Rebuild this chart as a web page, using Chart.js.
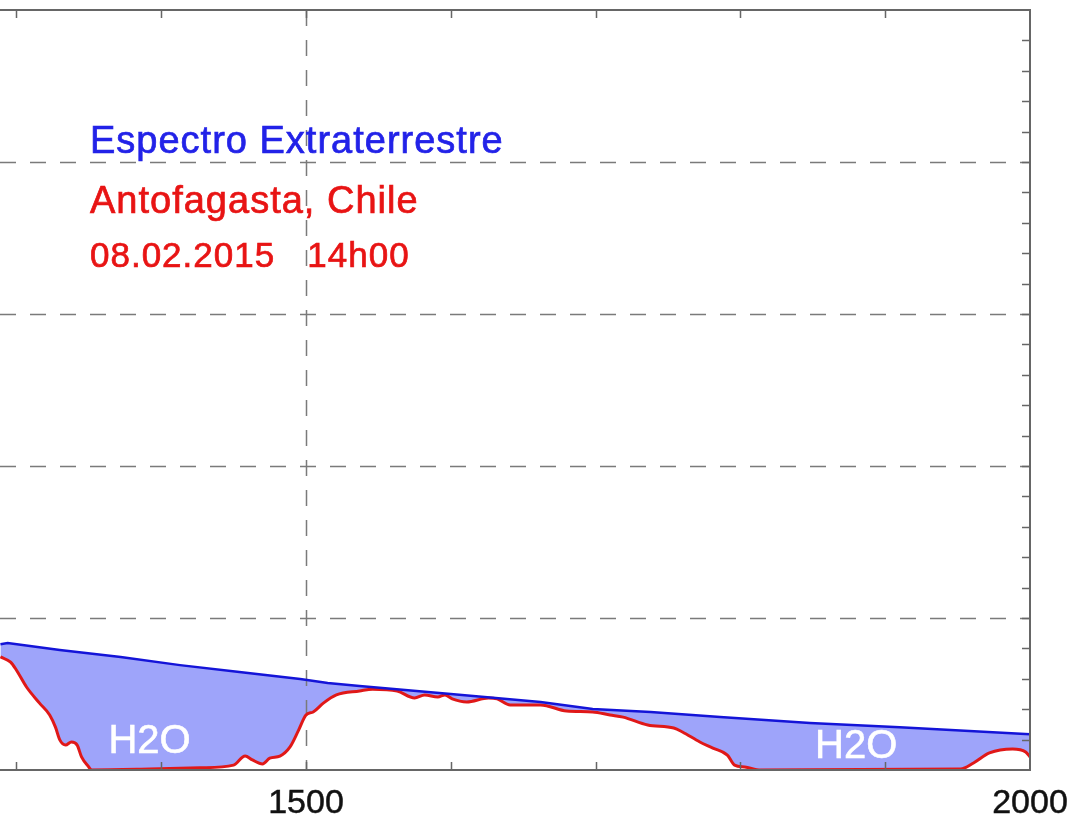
<!DOCTYPE html>
<html>
<head>
<meta charset="utf-8">
<script src="https://cdn.jsdelivr.net/npm/chart.js@4.4.1/dist/chart.umd.min.js"></script>
<style>
    html, body { margin: 0; padding: 0; background: #fff; }
    #wrap { width: 1075px; height: 822px; }
</style>
</head>
<body>
<div id="wrap"><canvas id="spectrumChart"></canvas></div>
<script>
// extraterrestrial spectrum (nm, W/m2/nm)
const etrWave = [1289, 1294, 1330, 1372, 1413, 1454, 1496, 1515, 1537, 1600, 1662, 1698, 1738, 1786, 1848, 1910, 2000];
const etrValue = [0.414, 0.418, 0.395, 0.372, 0.345, 0.322, 0.299, 0.286, 0.276, 0.250, 0.224, 0.201, 0.191, 0.174, 0.155, 0.141, 0.118];

// Antofagasta measurement
const siteWave = [1289, 1296, 1300, 1307, 1316, 1323, 1327, 1330, 1334, 1338, 1342, 1345, 1350, 1352,
    1392, 1427, 1450, 1458, 1463, 1470, 1475, 1482, 1489, 1495, 1500, 1505, 1512, 1521, 1537, 1546,
    1563, 1575, 1582, 1591, 1596, 1601, 1611, 1626, 1632, 1641, 1662, 1680, 1698, 1710, 1719, 1736,
    1754, 1760, 1772, 1781, 1791, 1796, 1803, 1814, 1952, 1961, 1972, 1988, 1997, 2000];
const siteValue = [0.372, 0.355, 0.329, 0.273, 0.220, 0.181, 0.141, 0.099, 0.082, 0.092, 0.082, 0.043, 0.010, 0.000,
    0.003, 0.007, 0.016, 0.046, 0.033, 0.020, 0.039, 0.046, 0.076, 0.132, 0.181, 0.191, 0.220, 0.247, 0.260, 0.266,
    0.260, 0.237, 0.247, 0.240, 0.247, 0.234, 0.224, 0.237, 0.234, 0.214, 0.214, 0.194, 0.191, 0.181, 0.174, 0.148,
    0.138, 0.125, 0.092, 0.072, 0.049, 0.016, 0.010, 0.000, 0.003, 0.023, 0.056, 0.069, 0.059, 0.043];

const xTickLabels = [1500, 2000];
const legendLines = ['Espectro Extraterrestre', 'Antofagasta, Chile', '08.02.2015   14h00'];
const bandLabels = [{ x: 1392, y: 0.056, text: 'H2O' }, { x: 1880, y: 0.039, text: 'H2O' }];

const xMin = 1288.7, xMax = 2000;
const yMin = 0, yMax = 2.5;

function toPoints(xs, ys) {
    return xs.map(function(x, i) { return { x: x, y: ys[i] }; });
}

// text drawn a little heavier, like the original
function heavyText(ctx, text, x, y, color, weight) {
    ctx.fillStyle = color;
    ctx.strokeStyle = color;
    ctx.lineWidth = weight;
    ctx.fillText(text, x, y);
    ctx.strokeText(text, x, y);
}

// frame, dashed grid, minor ticks and all the text
const framePlugin = {
    id: 'frame',
    beforeDatasetsDraw: function(chart) {
        const ctx = chart.ctx, a = chart.chartArea;
        const xs = chart.scales.x, ys = chart.scales.y;
        ctx.save();
        ctx.strokeStyle = '#7a7a7a';
        ctx.lineWidth = 1.5;
        ctx.setLineDash([16, 14]);
        [0.5, 1.0, 1.5, 2.0].forEach(function(v) {
            const py = Math.round(ys.getPixelForValue(v)) + 0.5;
            ctx.beginPath(); ctx.moveTo(a.left, py); ctx.lineTo(a.right, py); ctx.stroke();
        });
        const gx = Math.round(xs.getPixelForValue(1500)) + 0.5;
        ctx.beginPath(); ctx.moveTo(gx, a.top); ctx.lineTo(gx, a.bottom); ctx.stroke();
        ctx.restore();
    },
    afterDraw: function(chart) {
        const ctx = chart.ctx, a = chart.chartArea;
        const xs = chart.scales.x, ys = chart.scales.y;
        ctx.save();
        ctx.strokeStyle = '#666';
        ctx.lineWidth = 1.5;
        // minor ticks on x, top and bottom
        for (let v = 1300; v < 2000; v += 100) {
            const px = Math.round(xs.getPixelForValue(v)) + 0.5;
            ctx.beginPath();
            ctx.moveTo(px, a.top); ctx.lineTo(px, a.top + 8);
            ctx.moveTo(px, a.bottom); ctx.lineTo(px, a.bottom - 8);
            ctx.stroke();
        }
        // minor ticks on right
        for (let i = 1; i < 25; i++) {
            const py = Math.round(ys.getPixelForValue(i * 0.1)) + 0.5;
            ctx.beginPath(); ctx.moveTo(a.right, py); ctx.lineTo(a.right - 8, py); ctx.stroke();
        }
        // box (left side is off the picture)
        ctx.lineWidth = 2;
        ctx.beginPath();
        ctx.moveTo(a.left, a.top); ctx.lineTo(a.right, a.top);
        ctx.lineTo(a.right, a.bottom); ctx.lineTo(a.left, a.bottom);
        ctx.stroke();

        // tick labels
        ctx.font = '34px "Liberation Sans", Arial, sans-serif';
        ctx.textAlign = 'center';
        ctx.textBaseline = 'alphabetic';
        xTickLabels.forEach(function(v) {
            heavyText(ctx, String(v), xs.getPixelForValue(v), a.bottom + 43, '#111', 0.5);
        });

        // legend text
        ctx.textAlign = 'left';
        ctx.font = '38px "Liberation Sans", Arial, sans-serif';
        ctx.letterSpacing = '1px';
        heavyText(ctx, legendLines[0], 90, 153, '#2222e8', 0.7);
        heavyText(ctx, legendLines[1], 90, 213, '#e81414', 0.7);
        ctx.font = '35px "Liberation Sans", Arial, sans-serif';
        heavyText(ctx, legendLines[2], 90, 267, '#e81414', 0.7);
        ctx.letterSpacing = '0px';

        // band labels
        ctx.font = '40px "Liberation Sans", Arial, sans-serif';
        ctx.textAlign = 'center';
        bandLabels.forEach(function(b) {
            heavyText(ctx, b.text, xs.getPixelForValue(b.x), ys.getPixelForValue(b.y), '#fff', 0.6);
        });
        ctx.restore();
    }
};

const ctx = document.getElementById('spectrumChart').getContext('2d');
new Chart(ctx, {
    type: 'line',
    data: {
        datasets: [{
            label: 'Espectro Extraterrestre',
            data: toPoints(etrWave, etrValue),
            borderColor: '#1414d8',
            borderWidth: 2.5,
            pointRadius: 0,
            tension: 0,
            fill: { target: '+1', above: 'rgba(158,164,250,1)', below: 'rgba(158,164,250,1)' }
        }, {
            label: 'Antofagasta, Chile',
            data: toPoints(siteWave, siteValue),
            borderColor: '#e01818',
            borderWidth: 3,
            pointRadius: 0,
            cubicInterpolationMode: 'monotone',
            fill: false
        }]
    },
    options: {
        responsive: true,
        maintainAspectRatio: false,
        animation: false,
        layout: { padding: { left: 0, right: 45, top: 10, bottom: 52 } },
        scales: {
            x: { type: 'linear', min: xMin, max: xMax, display: false },
            y: { min: yMin, max: yMax, display: false }
        },
        plugins: {
            legend: { display: false },
            tooltip: { enabled: false },
            filler: { drawTime: 'beforeDatasetsDraw' }
        }
    },
    plugins: [framePlugin]
});
</script>
</body>
</html>
